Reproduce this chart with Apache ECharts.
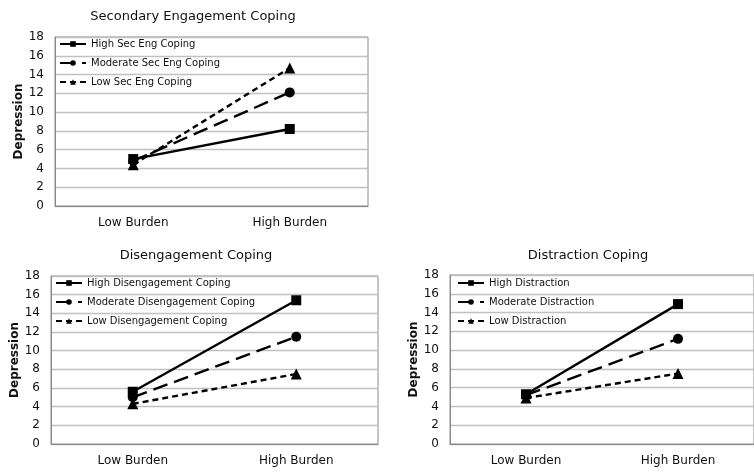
<!DOCTYPE html>
<html>
<head>
<meta charset="utf-8">
<script src="https://cdn.jsdelivr.net/npm/echarts@6/dist/echarts.min.js"></script>
<style>
  html, body { margin: 0; padding: 0; background: #fff; }
  #chart { width: 754px; height: 473px; }
</style>
</head>
<body>
<div id="chart"></div>
<script>
// Categories along the x axis
const burdenLevels = ['Low Burden', 'High Burden'];

// Y axis ticks
const yMin = 0, yMax = 18, yStep = 2;

// Panel titles
const panelTitles = ['Secondary Engagement Coping', 'Disengagement Coping', 'Distraction Coping'];

// Secondary engagement coping panel
const secEngNames = ['High Sec Eng Coping', 'Moderate Sec Eng Coping', 'Low Sec Eng Coping'];
const secEngHigh = [5.0, 8.2];
const secEngModerate = [4.8, 12.1];
const secEngLow = [4.4, 14.7];

// Disengagement coping panel
const disEngNames = ['High Disengagement Coping', 'Moderate Disengagement Coping', 'Low Disengagement Coping'];
const disEngHigh = [5.6, 15.4];
const disEngModerate = [5.0, 11.5];
const disEngLow = [4.3, 7.5];

// Distraction coping panel
const distrNames = ['High Distraction', 'Moderate Distraction', 'Low Distraction'];
const distrHigh = [5.3, 14.9];
const distrModerate = [5.2, 11.2];
const distrLow = [4.9, 7.5];

const FONT = 'DejaVu Sans';
const INK = '#111';

// Line style per level: solid + square, long dash + circle, short dash + triangle
const levelStyles = [
  { type: 'solid', symbol: 'rect', symbolSize: 10 },
  { type: [15, 7], symbol: 'circle', symbolSize: 10 },
  { type: [6, 4], symbol: 'triangle', symbolSize: 11 }
];

const panels = [
  { names: secEngNames, data: [secEngHigh, secEngModerate, secEngLow],
    grid: { left: 55, top: 37, width: 313, height: 169 },
    titleX: 188, titleY: 5, legendX: 59, legendY: 39 },
  { names: disEngNames, data: [disEngHigh, disEngModerate, disEngLow],
    grid: { left: 51, top: 276, width: 327, height: 168 },
    titleX: 191, titleY: 244, legendX: 55, legendY: 278 },
  { names: distrNames, data: [distrHigh, distrModerate, distrLow],
    grid: { left: 450, top: 275, width: 311, height: 169 },
    titleX: 583, titleY: 244, legendX: 457, legendY: 278 }
];

const option = {
  animation: false,
  backgroundColor: '#fff',
  title: [], grid: [], xAxis: [], yAxis: [], legend: [], series: []
};

panels.forEach((p, i) => {
  option.title.push({
    text: panelTitles[i], left: p.titleX, top: p.titleY, textAlign: 'center',
    textStyle: { fontFamily: FONT, fontSize: 13, fontWeight: 'normal', color: INK }
  });
  option.grid.push(Object.assign({ show: true, borderColor: '#8a8a8a', borderWidth: 1, backgroundColor: 'transparent' }, p.grid));
  option.xAxis.push({
    type: 'category', gridIndex: i, data: burdenLevels, boundaryGap: true,
    axisLine: { show: true, lineStyle: { color: '#8a8a8a', width: 1 } },
    axisTick: { show: false },
    axisLabel: { fontFamily: FONT, fontSize: 12, color: INK, margin: 11 }
  });
  option.yAxis.push({
    type: 'value', gridIndex: i, min: yMin, max: yMax, interval: yStep,
    name: 'Depression', nameLocation: 'middle', nameRotate: 90, nameGap: 28,
    nameTextStyle: { fontFamily: FONT, fontSize: 12, fontWeight: 'bold', color: INK },
    axisLine: { show: true, lineStyle: { color: '#8a8a8a', width: 1 } },
    axisTick: { show: false },
    axisLabel: { fontFamily: FONT, fontSize: 12, color: INK, margin: 11 },
    splitLine: { show: true, lineStyle: { color: '#c0c0c0', width: 1.3 } }
  });
  option.legend.push({
    orient: 'vertical', left: p.legendX, top: p.legendY,
    data: p.names, itemWidth: 26, itemHeight: 7, itemGap: 9,
    padding: 0,
    textStyle: { fontFamily: FONT, fontSize: 10, color: INK }
  });
  // draw low first so the solid line sits on top
  [2, 1, 0].forEach(k => {
    const st = levelStyles[k];
    option.series.push({
      type: 'line', name: p.names[k], xAxisIndex: i, yAxisIndex: i,
      data: p.data[k], symbol: st.symbol, symbolSize: st.symbolSize,
      lineStyle: { color: '#000', width: 2.4, type: st.type },
      itemStyle: { color: '#000' },
      z: 3 - k
    });
  });
});

const chart = echarts.init(document.getElementById('chart'), null, { renderer: 'canvas' });
chart.setOption(option);
</script>
</body>
</html>
